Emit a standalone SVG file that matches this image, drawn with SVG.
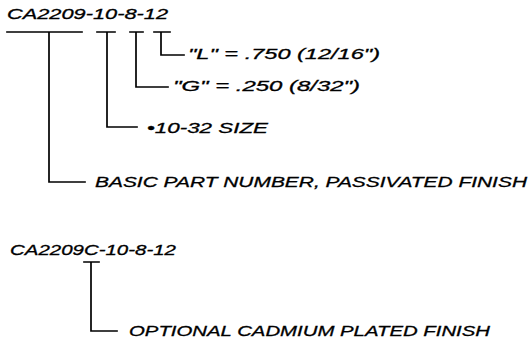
<svg xmlns="http://www.w3.org/2000/svg" width="529" height="341" viewBox="0 0 529 341">
<style>
text{font-family:"Liberation Sans",Arial,sans-serif;font-style:italic;font-size:15px;fill:#000;stroke:#000;stroke-width:0.3}
.ln{stroke:#000;stroke-width:1.7;fill:none;stroke-linecap:square}
</style>
<rect width="529" height="341" fill="#fff"/>
<g id="partnumber1"><text x="7" y="19" textLength="161" lengthAdjust="spacingAndGlyphs">CA2209-10-8-12</text></g>
<g id="label-L"><text x="188" y="59" textLength="192" lengthAdjust="spacingAndGlyphs">"L" = .750 (12/16")</text></g>
<g id="label-G"><text x="173" y="91" textLength="187" lengthAdjust="spacingAndGlyphs">"G" = .250 (8/32")</text></g>
<g id="label-size"><text x="147" y="133" textLength="121" lengthAdjust="spacingAndGlyphs">•10-32 SIZE</text></g>
<g id="label-basic"><text x="95" y="187" textLength="432" lengthAdjust="spacingAndGlyphs">BASIC PART NUMBER, PASSIVATED FINISH</text></g>
<g id="partnumber2"><text x="10" y="255" textLength="166" lengthAdjust="spacingAndGlyphs">CA2209C-10-8-12</text></g>
<g id="label-optional"><text x="129" y="336" textLength="361" lengthAdjust="spacingAndGlyphs">OPTIONAL CADMIUM PLATED FINISH</text></g>
<g id="connectors" class="ln">
<path d="M7 32H82M49 32V182H85"/>
<path d="M97 32H115M107 32V127H137"/>
<path d="M130 32H143M136 32V87H168"/>
<path d="M154 32H170M161 32V55H184"/>
<path d="M84 262H99M91 262V331H117"/>
</g>
</svg>
